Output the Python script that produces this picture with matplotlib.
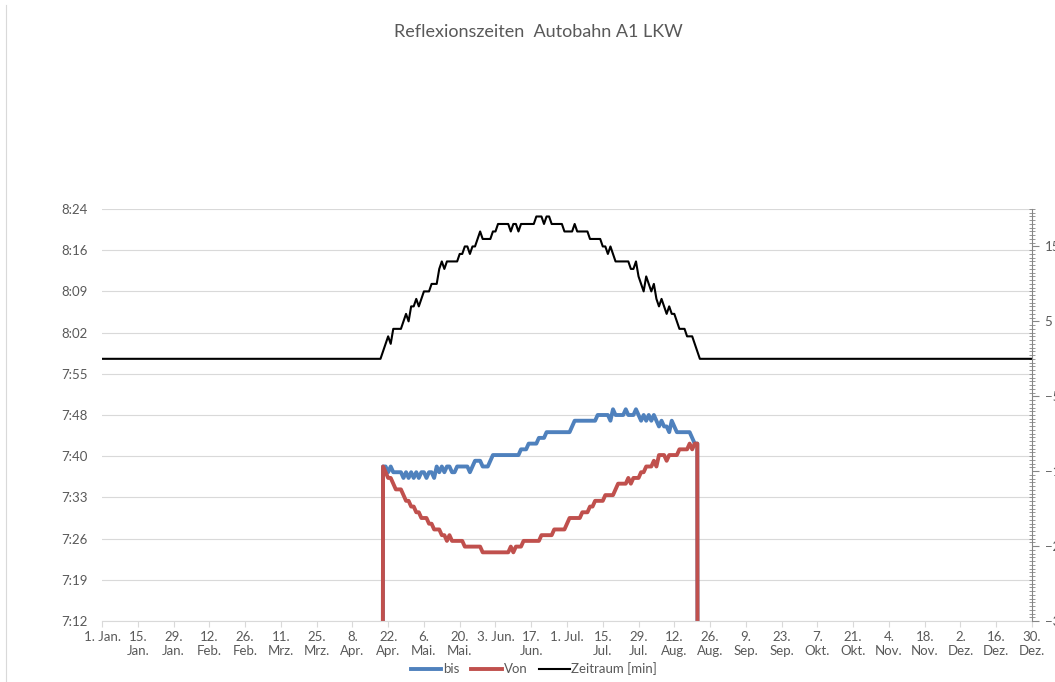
import numpy as np
import pandas as pd
import matplotlib
matplotlib.use("Agg")
import matplotlib.pyplot as plt
from matplotlib.lines import Line2D

plt.rcParams['font.family'] = ['Lato', 'DejaVu Sans']

title = "Reflexionszeiten  Autobahn A1 LKW"

# daily values from 20 Apr to 22 Aug, times in minutes after midnight
first_day = "2016-04-20"
bis = [459, 459, 458, 459, 458, 458, 458, 458, 457, 458,
       457, 458, 457, 458, 457, 458, 458, 457, 458, 458,
       457, 459, 458, 459, 458, 459, 459, 458, 458, 459,
       459, 459, 459, 459, 458, 459, 460, 460, 460, 459,
       459, 459, 460, 461, 461, 461, 461, 461, 461, 461,
       461, 461, 461, 461, 462, 462, 462, 463, 463, 463,
       463, 464, 464, 464, 465, 465, 465, 465, 465, 465,
       465, 465, 465, 465, 466, 467, 467, 467, 467, 467,
       467, 467, 467, 467, 468, 468, 468, 468, 468, 467,
       469, 468, 468, 468, 468, 469, 468, 468, 468, 469,
       468, 467, 468, 467, 468, 467, 468, 467, 466, 467,
       466, 466, 465, 467, 466, 465, 465, 465, 465, 465,
       465, 464, 463, 463]
von = [459, 458, 457, 457, 456, 455, 455, 455, 454, 453,
       453, 452, 452, 451, 451, 450, 450, 450, 449, 449,
       448, 448, 448, 447, 447, 446, 447, 446, 446, 446,
       446, 446, 445, 445, 445, 445, 445, 445, 445, 444,
       444, 444, 444, 444, 444, 444, 444, 444, 444, 444,
       445, 444, 445, 445, 445, 446, 446, 446, 446, 446,
       446, 446, 447, 447, 447, 447, 447, 448, 448, 448,
       448, 448, 449, 450, 450, 450, 450, 450, 451, 451,
       451, 452, 452, 453, 453, 453, 453, 454, 454, 454,
       454, 455, 456, 456, 456, 456, 457, 456, 457, 457,
       457, 458, 458, 459, 459, 459, 460, 459, 461, 461,
       461, 460, 461, 461, 461, 461, 462, 462, 462, 462,
       463, 462, 463, 463]
zeitraum = [1, 2, 3, 2, 4, 4, 4, 4, 5, 6,
            5, 7, 7, 8, 7, 8, 9, 9, 9, 10,
            10, 10, 12, 13, 12, 13, 13, 13, 13, 13,
            14, 14, 15, 15, 14, 15, 15, 16, 17, 16,
            16, 16, 16, 17, 17, 18, 18, 18, 18, 18,
            17, 18, 18, 17, 18, 18, 18, 18, 18, 18,
            19, 19, 19, 18, 19, 19, 18, 18, 18, 18,
            18, 17, 17, 17, 17, 18, 17, 17, 17, 17,
            17, 16, 16, 16, 16, 16, 15, 15, 14, 15,
            14, 13, 13, 13, 13, 13, 13, 12, 12, 13,
            11, 10, 9, 11, 10, 9, 10, 8, 7, 8,
            7, 6, 7, 6, 6, 5, 4, 4, 4, 3,
            3, 3, 2, 1]

xtick_labels = ["1. Jan.", "15.\nJan.", "29.\nJan.", "12.\nFeb.", "26.\nFeb.",
                "11.\nMrz.", "25.\nMrz.", "8.\nApr.", "22.\nApr.", "6.\nMai.",
                "20.\nMai.", "3. Jun.", "17.\nJun.", "1. Jul.", "15.\nJul.",
                "29.\nJul.", "12.\nAug.", "26.\nAug.", "9.\nSep.", "23.\nSep.",
                "7.\nOkt.", "21.\nOkt.", "4.\nNov.", "18.\nNov.", "2.\nDez.",
                "16.\nDez.", "30.\nDez."]
ytick_labels = ["7:12", "7:19", "7:26", "7:33", "7:40", "7:48",
                "7:55", "8:02", "8:09", "8:16", "8:24"]
y2_ticks = [-35, -25, -15, -5, 5, 15]

days = pd.date_range("2016-01-01", "2016-12-31", freq="D")
i0 = days.get_loc(pd.Timestamp(first_day))
bis_all = np.zeros(len(days))
von_all = np.zeros(len(days))
zeit_all = np.zeros(len(days))
bis_all[i0:i0 + len(bis)] = bis
von_all[i0:i0 + len(von)] = von
zeit_all[i0:i0 + len(zeitraum)] = zeitraum

grey = '#595959'
blue = '#4F81BD'
red = '#C0504D'
fs = 9.5

fig = plt.figure(figsize=(10.55, 6.82), dpi=100)
ax = fig.add_axes([102 / 1055, 1 - 621 / 682, 930 / 1055, 412 / 682])
ax2 = ax.twinx()

ax.plot(days, bis_all, color=blue, lw=2.8, solid_joinstyle='round')
ax.plot(days, von_all, color=red, lw=2.8, solid_joinstyle='round')
ax2.plot(days, zeit_all, color='black', lw=1.5)

ax.set_xlim(days[0], days[364])
ax.set_ylim(432, 504)
ax.set_yticks(np.linspace(432, 504, 11))
ax.set_yticklabels(ytick_labels)
ax.set_xticks(days[0:365:14])
ax.set_xticklabels(xtick_labels)
ax.yaxis.grid(True, color='#D9D9D9', lw=0.8)
ax.set_axisbelow(True)
for s in ['left', 'top', 'right']:
    ax.spines[s].set_visible(False)
ax.spines['bottom'].set_color('#D9D9D9')
ax.tick_params(axis='y', length=0, pad=10, labelsize=fs, labelcolor=grey)
ax.tick_params(axis='x', length=4, color='#D9D9D9', pad=3, labelsize=fs,
               labelcolor=grey)

ax2.set_ylim(-35, 20)
ax2.set_yticks(y2_ticks)
ax2.set_yticks(np.arange(-35, 20.01, 0.5), minor=True)
for s in ['left', 'top', 'bottom']:
    ax2.spines[s].set_visible(False)
ax2.spines['right'].set_color('#868686')
ax2.tick_params(axis='y', which='major', length=5, color='#868686', pad=4,
                labelsize=fs, labelcolor=grey)
ax2.tick_params(axis='y', which='minor', length=4, direction='inout',
                color='#868686', width=0.6)

fig.text(538 / 1055, 1 - 32 / 682, title, ha='center', va='center',
         fontsize=13, color=grey)

handles = [Line2D([], [], color=blue, lw=2.8),
           Line2D([], [], color=red, lw=2.8),
           Line2D([], [], color='black', lw=1.5)]
fig.legend(handles, ['bis', 'Von', 'Zeitraum [min]'], loc='center',
           bbox_to_anchor=(534 / 1055, 1 - 669 / 682), ncol=3, frameon=False,
           fontsize=fs, handlelength=2.3, handletextpad=0.15,
           columnspacing=0.9, labelcolor=grey)

fig.add_artist(Line2D([6 / 1055, 6 / 1055], [0, 1 - 5 / 682],
                      color='#D9D9D9', lw=0.8))

fig.savefig('out.png', dpi=100)
